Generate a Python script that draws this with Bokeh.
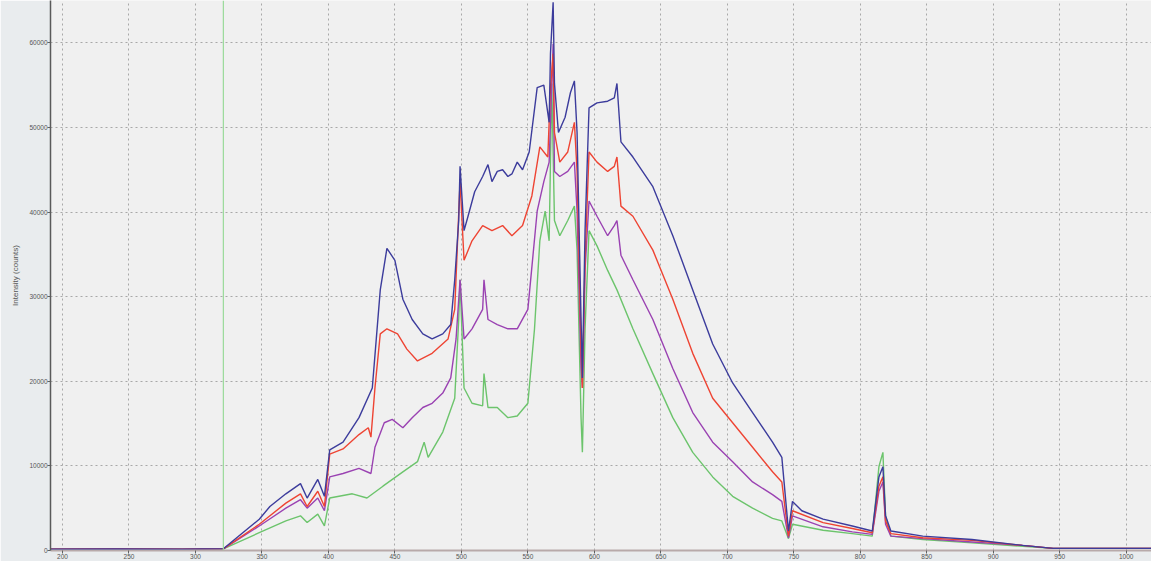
from bokeh.plotting import figure
from bokeh.models import Range1d, FixedTicker, Span
from bokeh.embed import file_html
from bokeh.resources import INLINE

# ---- data (wavelength nm, intensity counts) ----
x_ticks = [200, 250, 300, 350, 400, 450, 500, 550, 600, 650, 700, 750, 800, 850, 900, 950, 1000]
y_ticks = [0, 10000, 20000, 30000, 40000, 50000, 60000]
marker_wl = 321

blue_wl = [190, 240, 290, 321, 348, 356, 368, 379, 384, 392, 397, 401, 411, 423, 433, 439, 444, 450, 456,
           463, 471, 478, 486, 492, 495, 498, 499, 502, 505, 510, 516, 520, 523, 527, 531, 535, 538, 542,
           546, 551, 557, 562,
           566, 567, 569, 570, 573, 578, 582, 585, 587, 590, 591, 593, 596, 602, 610, 615, 617, 620, 629,
           644, 659, 674, 689, 704, 719, 734, 741, 746, 749, 756, 772, 794, 809, 814, 817, 819, 823, 847,
           884, 922, 945, 1030]
blue_val = [150, 180, 140, 200, 3700, 5200, 6700, 7900, 6200, 8400, 6400, 11900, 12800, 15700, 19200, 30800,
            35700, 34300, 29700, 27300, 25600, 25000, 25600, 26700, 32000, 39000, 45400, 37800, 39500, 42400,
            44200, 45600, 43600, 44800, 45000, 44200, 44500, 45900,
            45000, 47100, 54700, 55000, 50600, 58700, 64800, 55200, 49400, 51200,
            54100, 55500, 49400, 27300, 20400, 37800, 52300, 52900, 53100, 53500, 55200, 48300, 46500, 43000,
            37200, 30800, 24400, 19800, 16300, 12800, 11000, 2300, 5800, 4700, 3700, 2900, 2300, 8700, 9900,
            4100, 2300, 1700, 1300, 600, 250, 250]

red_wl = [190, 240, 290, 321, 348, 368, 379, 384, 392, 397, 401, 411, 423, 430, 432, 435, 439, 444, 452,
          459, 467, 478, 490, 495, 499, 502, 508, 516, 523, 531, 538, 546, 553, 559, 565, 567, 569, 570,
          574, 580, 585, 587, 590, 591, 593, 596, 602, 610, 615, 617, 620, 629, 644, 659, 674, 689, 704,
          719, 734, 741, 746, 749, 772, 794, 809, 814, 817, 819, 823, 847, 884, 922, 945, 1030]
red_val = [150, 170, 140, 200, 3100, 5600, 6700, 5200, 7000, 5200, 11400, 12000, 13700, 14500, 13400, 19200,
           25600, 26200, 25600, 23800, 22400, 23300, 25000, 28500, 43600, 34300, 36600, 38400, 37800, 38400,
           37200, 38400, 41900, 47700, 46500, 54700, 58700, 49400, 45900, 47100, 50600, 44800, 23800, 19200,
           34300, 47100, 45900, 44800, 45400, 46500, 40700, 39500, 35500, 29700, 23300, 18000, 15100, 12200,
           9300, 8100, 1700, 4700, 3300, 2600, 2100, 7600, 8700, 3500, 2000, 1500, 1200, 600, 250, 250]

purple_wl = [190, 240, 290, 321, 348, 368, 379, 384, 392, 397, 401, 411, 423, 432, 435, 442, 448, 456, 463,
             471, 478, 486, 492, 496, 499, 502, 508, 516, 517, 520, 527, 535, 542, 550, 557, 562, 566, 569,
             570, 574, 580, 585, 587, 590, 591, 593, 596, 602, 610, 615, 617, 620, 629, 644, 659, 674, 689,
             704, 719, 734, 741, 746, 749, 772, 794, 809, 814, 817, 819, 823, 847, 884, 922, 945, 1030]
purple_val = [150, 170, 140, 200, 2900, 5000, 6000, 5000, 6200, 4700, 8700, 9100, 9700, 9100, 12200, 15100,
              15500, 14500, 15700, 16900, 17400, 18600, 20400, 25000, 32000, 25000, 26200, 28500, 32000, 27300,
              26700, 26200, 26200, 28500, 40100, 43600, 45900, 59900, 44800, 44200, 44800, 45900, 40100, 21500,
              19200, 33100, 41300, 39500, 37200, 38400, 39000, 34900, 32000, 27300, 21500, 16300, 12800, 10500,
              8100, 6600, 5800, 1500, 4100, 2800, 2200, 1900, 7000, 8100, 3100, 1700, 1400, 1000, 600, 250, 250]

green_wl = [190, 240, 290, 321, 348, 368, 379, 384, 392, 397, 401, 418, 429, 441, 456, 467, 472, 475, 486,
            495, 498, 499, 502, 508, 516, 517, 520, 527, 535, 542, 550, 555, 559, 563, 566, 568, 570, 574,
            580, 585, 587, 590, 591, 593, 596, 602, 610, 617, 629, 644, 659, 674, 689, 704, 719, 734, 741,
            746, 749, 772, 794, 809, 814, 817, 819, 823, 847, 884, 922, 945, 1030]
green_val = [150, 160, 140, 200, 2100, 3500, 4100, 3300, 4300, 2900, 6200, 6700, 6200, 7600, 9300, 10500,
             12800, 11000, 14000, 18000, 27300, 32000, 19200, 17400, 17100, 20900, 16900, 16900, 15700, 15900,
             17400, 26200, 36600, 40100, 36600, 55200, 39000, 37200, 39000, 40700, 35500, 15700, 11600, 26200,
             37800, 36000, 33100, 30800, 26200, 20900, 15700, 11600, 8700, 6400, 5000, 3800, 3500, 1400, 3100,
             2400, 2000, 1700, 9900, 11600, 4100, 1700, 1300, 900, 500, 250, 250]

series = [
    (green_wl, green_val, "#6cc46c"),
    (purple_wl, purple_val, "#9a42b2"),
    (red_wl, red_val, "#ee4433"),
    (blue_wl, blue_val, "#3c3c9c"),
]

p = figure(width=1151, height=561, output_backend="svg", toolbar_location=None,
           x_range=Range1d(191, 1019), y_range=Range1d(0, 65000),
           min_border_left=50, min_border_right=0, min_border_top=0, min_border_bottom=8)

p.background_fill_color = "#f0f0f0"
p.border_fill_color = "#e9ecee"
p.outline_line_color = None

for wl, val, col in series:
    p.line(wl, val, line_color=col, line_width=1.4)

p.add_layout(Span(location=marker_wl, dimension="height", line_color="#9ada9a", line_width=1.2))

p.xaxis.ticker = FixedTicker(ticks=x_ticks)
p.yaxis.ticker = FixedTicker(ticks=y_ticks)
p.xaxis.major_label_overrides = {t: str(t) for t in x_ticks}
p.yaxis.major_label_overrides = {t: str(t) for t in y_ticks}

for g in (p.xgrid, p.ygrid):
    g.grid_line_color = "#a8a8a8"
    g.grid_line_dash = "2 3"
    g.grid_line_width = 1

p.yaxis.axis_label = "Intensity (counts)"
p.yaxis.axis_label_text_font_size = "8px"
p.yaxis.axis_label_text_font_style = "normal"
p.yaxis.axis_label_text_color = "#555555"
p.yaxis.axis_label_standoff = 6
p.yaxis.axis_line_color = "#5a5a5a"
p.yaxis.axis_line_width = 1.5
p.xaxis.axis_line_color = "#b8aaaa"
p.xaxis.axis_line_width = 2

for ax in (p.xaxis, p.yaxis):
    ax.major_label_text_font_size = "6.5px"
    ax.major_label_text_color = "#555555"
    ax.major_tick_line_color = "#606060"
    ax.major_tick_out = 3
    ax.major_tick_in = 0
    ax.minor_tick_line_color = None
    ax.major_label_standoff = 0

open("out.html", "w").write(file_html(p, INLINE))
